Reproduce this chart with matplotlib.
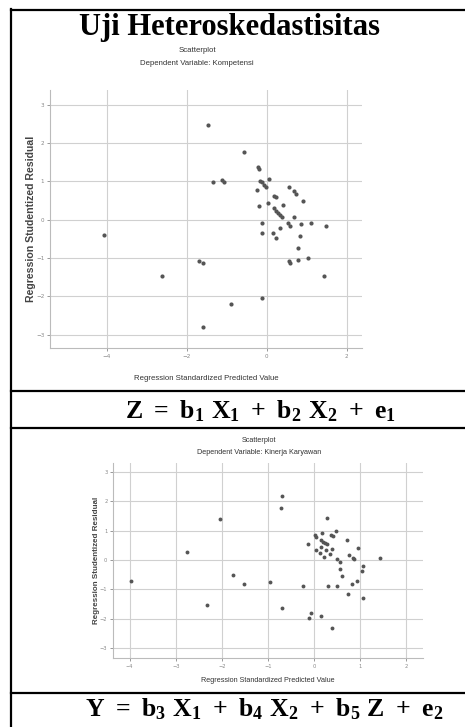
import matplotlib
matplotlib.use('Agg')
import matplotlib.pyplot as plt
import numpy as np

plt.rcParams['mathtext.fontset'] = 'custom'
plt.rcParams['mathtext.rm'] = 'Liberation Serif:bold'
plt.rcParams['mathtext.it'] = 'Liberation Serif:bold'
plt.rcParams['mathtext.bf'] = 'Liberation Serif:bold'

spss_font = ['Liberation Sans Narrow', 'Liberation Sans', 'DejaVu Sans']

# texts
table_title = 'Uji Heteroskedastisitas'
eq1 = r'$\mathrm{Z\ =\ b_1\ X_1\ +\ b_2\ X_2\ +\ e_1}$'
eq2 = r'$\mathrm{Y\ =\ b_3\ X_1\ +\ b_4\ X_2\ +\ b_5\ Z\ +\ e_2}$'
dep1 = 'Dependent Variable: Kompetensi'
dep2 = 'Dependent Variable: Kinerja Karyawan'
xlab = 'Regression Standardized Predicted Value'
ylab = 'Regression Studentized Residual'

# scatter 1 (Kompetensi)
x1 = [-4.06, -2.61, -1.70, -1.59, -1.46, -1.34, -1.12, -1.07, -0.57, -1.59, -0.89, -0.12,
      -0.22, -0.19, -0.17, -0.13, -0.08, -0.03, 0.06, -0.25, -0.19, 0.04, 0.18, 0.22,
      0.17, 0.23, 0.28, 0.32, 0.37, 0.41, 0.56, 0.67, 0.72, 0.90, 0.69, 0.53, 0.57,
      0.85, 1.10, 1.48, -0.12, -0.13, 0.16, 0.23, 0.32, 0.83, 0.78, 0.55, 0.59, 0.78,
      1.04, 1.43]
y1 = [-0.40, -1.46, -1.07, -1.12, 2.46, 0.98, 1.04, 0.97, 1.76, -2.80, -2.20, -2.04,
      1.36, 1.33, 1.01, 0.97, 0.91, 0.85, 1.06, 0.76, 0.35, 0.44, 0.62, 0.58,
      0.30, 0.23, 0.18, 0.13, 0.07, 0.37, 0.85, 0.74, 0.68, 0.49, 0.07, -0.10, -0.16,
      -0.11, -0.09, -0.17, -0.08, -0.36, -0.36, -0.48, -0.22, -0.43, -0.73, -1.08, -1.14, -1.06,
      -1.00, -1.47]

# scatter 2 (Kinerja Karyawan)
x2 = [-3.96, -2.75, -2.05, -2.33, -1.75, -1.52, -0.96, -0.69, -0.25, -0.12, -0.07, 0.15,
      0.38, 0.31, 0.49, 0.74, 0.83, 0.92, 1.05, 1.04, 1.07, 0.60, 0.56, 0.49, 0.57,
      -0.70, -0.71, 0.28, 0.02, 0.03, 0.16, 0.37, 0.41, 0.47, 0.71, -0.14, 0.15, 0.19,
      0.23, 0.27, 0.14, 0.04, 0.12, 0.25, 0.38, 0.22, 0.35, 0.96, 0.76, 0.84, 0.87, 1.43]
y2 = [-0.73, 0.27, 1.40, -1.53, -0.50, -0.80, -0.74, -1.63, -0.90, -1.96, -1.81, -1.90,
      -2.32, -0.89, -0.89, -1.17, -0.80, -0.72, -1.30, -0.39, -0.19, -0.54, -0.29, 0.03, -0.05,
      2.19, 1.76, 1.45, 0.85, 0.80, 0.91, 0.87, 0.82, 1.00, 0.69, 0.56, 0.67, 0.62,
      0.58, 0.55, 0.44, 0.35, 0.25, 0.33, 0.39, 0.12, 0.21, 0.40, 0.17, 0.08, 0.05, 0.08]

W, H = 465, 727
fig = plt.figure(figsize=(W / 100, H / 100), dpi=100)

# table frame in pixel coordinates
bg = fig.add_axes([0, 0, 1, 1])
bg.set_xlim(0, W)
bg.set_ylim(H, 0)
bg.axis('off')
lw = 1.6
bg.plot([11, 11], [9, H], color='black', lw=lw)
for yy in [10, 391, 428, 693]:
    bg.plot([11, W], [yy, yy], color='black', lw=lw)

bg.text(229, 27, table_title, ha='center', va='center', fontsize=22,
        fontweight='bold', family='Liberation Serif')
bg.text(125, 411, eq1, ha='left', va='center', fontsize=18.5)
bg.text(85, 709, eq2, ha='left', va='center', fontsize=18.5)


def spss_scatter(rect, xs, ys, xlim, ylim, xticks, title_xy, dep, fs, ms,
                 yfs, ypad, xpad):
    ax = fig.add_axes(rect)
    ax.plot(xs, ys, 'o', color='#555555', ms=ms, mew=0)
    ax.set_xlim(*xlim)
    ax.set_ylim(*ylim)
    ax.set_xticks(xticks)
    ax.set_yticks([-3, -2, -1, 0, 1, 2, 3])
    ax.grid(True, color='#d0d0d0', lw=0.8)
    ax.set_axisbelow(True)
    for s in ['top', 'right']:
        ax.spines[s].set_visible(False)
    for s in ['left', 'bottom']:
        ax.spines[s].set_color('#bbbbbb')
        ax.spines[s].set_linewidth(0.8)
    ax.tick_params(labelsize=fs - 1.5, colors='#888888', length=2, width=0.6, pad=2)
    ax.set_xlabel(xlab, fontsize=fs, family=spss_font, color='#333333', labelpad=xpad)
    ax.set_ylabel(ylab, fontsize=yfs, family=['Liberation Sans', 'DejaVu Sans'],
                  fontweight='bold', color='#444444', labelpad=ypad)
    bg.text(title_xy[0], title_xy[1], 'Scatterplot', ha='center', va='center',
            fontsize=fs, family=spss_font, color='#333333')
    bg.text(title_xy[0], title_xy[1] + fs * 2.4, dep, ha='center', va='center',
            fontsize=fs, family=spss_font, color='#333333')
    return ax


ax1 = spss_scatter([50 / W, 1 - 348 / H, 312 / W, 258 / H], x1, y1,
                   (-5.42, 2.38), (-3.35, 3.38), [-4, -2, 0, 2], (197, 50), dep1,
                   5.6, 3.0, 7.6, 0, 12)
ax2 = spss_scatter([113 / W, 1 - 658 / H, 310 / W, 195 / H], x2, y2,
                   (-4.36, 2.36), (-3.34, 3.31), [-4, -3, -2, -1, 0, 1, 2], (259, 440), dep2,
                   5.2, 2.8, 5.8, 0, 6)

fig.savefig('out.png', dpi=100)
